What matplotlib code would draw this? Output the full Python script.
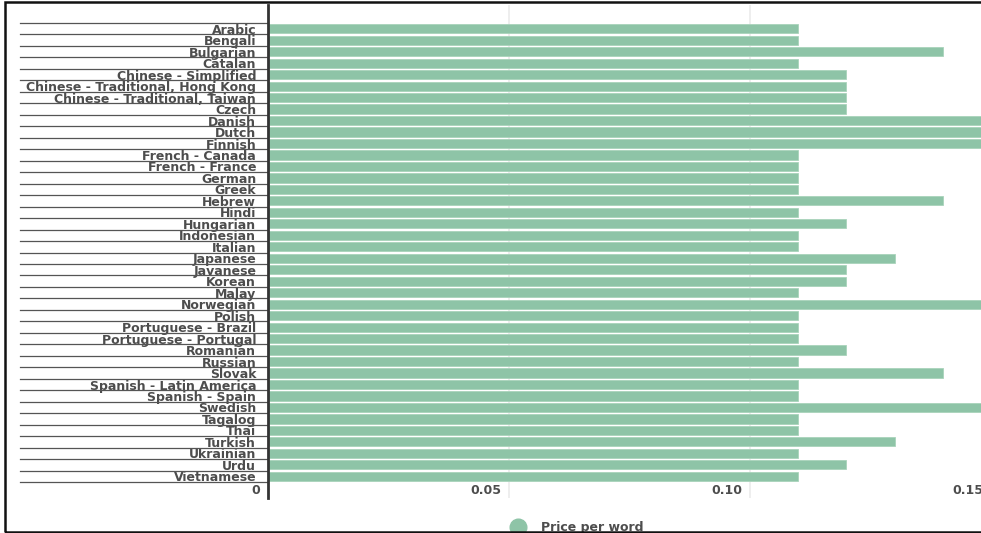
import matplotlib
matplotlib.use("Agg")
import matplotlib.pyplot as plt
from matplotlib.patches import Rectangle
from matplotlib.lines import Line2D
from matplotlib.transforms import blended_transform_factory

languages = [
    "Arabic", "Bengali", "Bulgarian", "Catalan", "Chinese - Simplified",
    "Chinese - Traditional, Hong Kong", "Chinese - Traditional, Taiwan", "Czech",
    "Danish", "Dutch", "Finnish", "French - Canada", "French - France", "German",
    "Greek", "Hebrew", "Hindi", "Hungarian", "Indonesian", "Italian", "Japanese",
    "Javanese", "Korean", "Malay", "Norwegian", "Polish", "Portuguese - Brazil",
    "Portuguese - Portugal", "Romanian", "Russian", "Slovak",
    "Spanish - Latin America", "Spanish - Spain", "Swedish", "Tagalog", "Thai",
    "Turkish", "Ukrainian", "Urdu", "Vietnamese",
]
price_per_word = [
    0.11, 0.11, 0.14, 0.11, 0.12,
    0.12, 0.12, 0.12,
    0.16, 0.16, 0.16, 0.11, 0.11, 0.11,
    0.11, 0.14, 0.11, 0.12, 0.11, 0.11, 0.13,
    0.12, 0.12, 0.11, 0.16, 0.11, 0.11,
    0.11, 0.12, 0.11, 0.14,
    0.11, 0.11, 0.16, 0.11, 0.11,
    0.13, 0.11, 0.12, 0.11,
]
x_ticks = [0, 0.05, 0.10, 0.15]
x_tick_labels = ["0", "0.05", "0.10", "0.15"]
legend_label = "Price per word"

BAR = "#8ec4a7"
TEXT = "#4d4d4d"
FONT = "DejaVu Sans"
FS = 9.0

W, H = 981, 533
fig = plt.figure(figsize=(W / 100, H / 100), dpi=100)

# axes in pixel terms: x 268 -> 991, y 5 -> 498 (from top)
x0, x1 = 268, 991
y_top, y_bot = 5, 498
ax = fig.add_axes([x0 / W, 1 - y_bot / H, (x1 - x0) / W, (y_bot - y_top) / H])

n = len(languages)
ypos = list(range(n))
ax.barh(ypos, price_per_word, height=0.8, color=BAR, edgecolor="#a9d3bb",
        linewidth=0.6, zorder=2)

ax.set_xlim(0, 0.15)
ax.set_ylim(n - 0.5 + 1.39, -0.5 - 1.57)

for s in ["top", "right", "bottom"]:
    ax.spines[s].set_visible(False)
ax.spines["left"].set_color("#333333")
ax.spines["left"].set_linewidth(2)
ax.spines["left"].set_zorder(4)

# vertical gridlines
for xv in x_ticks[1:]:
    ax.axvline(xv, color="#ebebeb", lw=1.2, zorder=1)

# category labels
ax.set_yticks(ypos)
ax.set_yticklabels(languages, fontfamily=FONT, fontweight="bold",
                   fontsize=FS, color=TEXT)
ax.tick_params(axis="y", length=0, pad=8.5)
for lab in ax.get_yticklabels():
    lab.set_verticalalignment("center_baseline")

# x tick labels, right-aligned just left of each gridline
ax.set_xticks([])
shift = 0.05 * 8 / 241
for xv, lab in zip(x_ticks, x_tick_labels):
    ax.text(xv - shift, n - 0.5 + 0.75, lab, ha="right", va="center",
            transform=ax.transData, fontfamily=FONT, fontweight="bold",
            fontsize=FS, color=TEXT, clip_on=False)

# row separator lines beside the labels
trans = blended_transform_factory(ax.transAxes, ax.transData)
left_frac = (20 - x0) / (x1 - x0)
for i in range(n + 1):
    ax.add_line(Line2D([left_frac, 0], [i - 0.5, i - 0.5], transform=trans,
                       color="#555555", lw=0.9, clip_on=False, zorder=3))

# legend
fig.add_artist(Line2D([518 / W], [1 - 527 / H], marker="o", markersize=12,
                      color=BAR, linestyle="none", transform=fig.transFigure))
fig.text(541 / W, 1 - 527 / H, legend_label, ha="left", va="center",
         fontfamily=FONT, fontweight="bold", fontsize=FS, color=TEXT)

# outer frame
fig.add_artist(Rectangle((4.5 / W, 1 - 531.5 / H), 1.2, (531.5 - 1.5) / H,
                         transform=fig.transFigure, fill=False,
                         edgecolor="#111111", lw=1.8, zorder=10))

fig.savefig("out.png", dpi=100)
